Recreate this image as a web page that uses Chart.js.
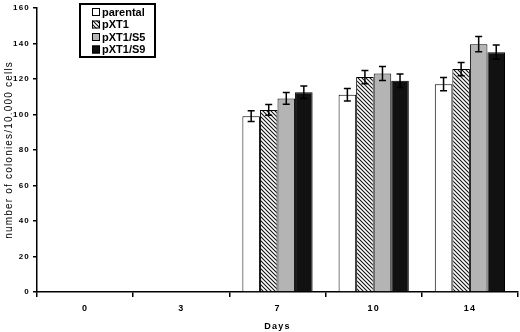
<!DOCTYPE html>
<html>
<head>
<meta charset="utf-8">
<script src="https://cdn.jsdelivr.net/npm/chart.js@4/dist/chart.umd.min.js"></script>
<style>
  html, body { margin: 0; padding: 0; background: #fff; }
  #wrap { width: 520px; height: 332px; position: relative; }
</style>
</head>
<body>
<div id="wrap"><canvas id="chart"></canvas></div>
<script>
const days = ["0", "3", "7", "10", "14"]
const seriesNames = ["parental", "pXT1", "pXT1/S5", "pXT1/S9"]
const parental = [null, null, 99, 111, 117]
const pXT1 = [null, null, 102.5, 121, 125.5]
const pXT1S5 = [null, null, 109, 123, 139.5]
const pXT1S9 = [null, null, 112.5, 119, 135]
const errParental = [null, null, 3, 3.5, 3.7]
const errPXT1 = [null, null, 3, 3.7, 3.7]
const errPXT1S5 = [null, null, 3.3, 3.9, 4.3]
const errPXT1S9 = [null, null, 3.5, 3.8, 4]
const yTicks = [0, 20, 40, 60, 80, 100, 120, 140, 160]

function hatch() {
  const c = document.createElement("canvas")
  c.width = 4
  c.height = 4
  const g = c.getContext("2d")
  g.fillStyle = "#fff"
  g.fillRect(0, 0, 4, 4)
  g.strokeStyle = "#111"
  g.lineWidth = 1.1
  g.beginPath()
  g.moveTo(0, 0); g.lineTo(4, 4)
  g.moveTo(-1, 3); g.lineTo(1, 5)
  g.moveTo(3, -1); g.lineTo(5, 1)
  g.stroke()
  return g.createPattern(c, "repeat")
}

const fills = ["#ffffff", hatch(), "#b4b4b4", "#111111"]
const values = [parental, pXT1, pXT1S5, pXT1S9]
const errors = [errParental, errPXT1, errPXT1S5, errPXT1S9]

const errorBars = {
  id: "errorBars",
  afterDatasetsDraw(chart) {
    const ctx = chart.ctx
    const y = chart.scales.y
    ctx.save()
    ctx.strokeStyle = "#000"
    ctx.lineWidth = 1.5
    chart.data.datasets.forEach((ds, i) => {
      const meta = chart.getDatasetMeta(i)
      meta.data.forEach((bar, j) => {
        const v = ds.data[j]
        const e = errors[i][j]
        if (v == null || e == null) return
        const top = y.getPixelForValue(v + e)
        const bot = y.getPixelForValue(v - e)
        const x = bar.x
        ctx.beginPath()
        ctx.moveTo(x, top); ctx.lineTo(x, bot)
        ctx.moveTo(x - 3.5, top); ctx.lineTo(x + 3.5, top)
        ctx.moveTo(x - 3.5, bot); ctx.lineTo(x + 3.5, bot)
        ctx.stroke()
      })
    })
    ctx.restore()
  }
}

const boxLegend = {
  id: "boxLegend",
  afterDraw(chart) {
    const ctx = chart.ctx
    ctx.save()
    ctx.letterSpacing = "0px"
    ctx.strokeStyle = "#000"
    ctx.lineWidth = 2
    ctx.fillStyle = "#fff"
    ctx.fillRect(80, 4, 75, 53)
    ctx.strokeRect(80, 4, 75, 53)
    ctx.font = "bold 11px 'Liberation Sans', Arial, sans-serif"
    ctx.textBaseline = "middle"
    chart.data.datasets.forEach((ds, i) => {
      const cy = 12 + i * 12.5
      ctx.fillStyle = fills[i]
      ctx.fillRect(92, cy - 4, 8, 8)
      ctx.lineWidth = 1
      ctx.strokeRect(92.5, cy - 3.5, 7, 7)
      ctx.fillStyle = "#000"
      ctx.fillText(ds.label, 102, cy + 0.5)
    })
    ctx.restore()
  }
}

const spacing = {
  id: "spacing",
  beforeDraw(chart) { chart.ctx.letterSpacing = "1.2px" }
}

new Chart(document.getElementById("chart"), {
  type: "bar",
  data: {
    labels: days,
    datasets: seriesNames.map((name, i) => ({
      label: name,
      data: values[i],
      backgroundColor: fills[i],
      borderColor: "#000",
      borderWidth: 1,
      borderSkipped: "bottom",
      categoryPercentage: 0.73,
      barPercentage: 1
    }))
  },
  plugins: [spacing, errorBars, boxLegend],
  options: {
    responsive: true,
    maintainAspectRatio: false,
    animation: false,
    layout: { padding: { top: 4, right: 2, left: 0, bottom: 0 } },
    plugins: { legend: { display: false }, tooltip: { enabled: false } },
    scales: {
      x: {
        afterFit: (s) => { s.height = 40 },
        grid: { drawOnChartArea: false, tickLength: 5, color: "#000", lineWidth: 1.5 },
        border: { color: "#000", width: 1.5 },
        ticks: { color: "#000", font: { family: "'Liberation Sans', Arial", weight: "bold", size: 9 }, padding: 6 },
        title: { display: true, text: "Days", color: "#000", font: { family: "'Liberation Sans', Arial", weight: "bold", size: 9 }, padding: { top: 8, bottom: 0 } }
      },
      y: {
        min: 0,
        max: 160,
        afterFit: (s) => { s.width = 37 },
        afterBuildTicks: (s) => { s.ticks = yTicks.map((v) => ({ value: v })) },
        grid: { drawOnChartArea: false, tickLength: 4, color: "#000", lineWidth: 1.5 },
        border: { color: "#000", width: 1.5 },
        ticks: { color: "#000", font: { family: "'Liberation Sans', Arial", weight: "bold", size: 8 }, padding: 3 },
        title: { display: true, text: "number of colonies/10.000 cells", color: "#000", font: { family: "'Liberation Sans', Arial", weight: "normal", size: 10 }, padding: { top: 3, bottom: 0 } }
      }
    }
  }
})
</script>
</body>
</html>
